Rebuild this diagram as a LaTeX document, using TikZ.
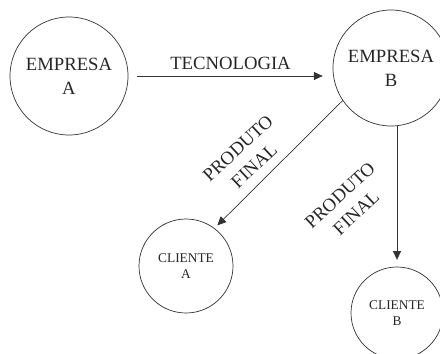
\documentclass[tikz,border=0pt]{standalone}
\usepackage{fontspec}
\setmainfont{Liberation Serif}
\usetikzlibrary{arrows.meta}
\begin{document}
\begin{tikzpicture}[
  ent/.style={circle, draw=black!80, line width=0.5pt, align=center, inner sep=0pt, text=black!85},
  big/.style={font=\fontsize{13.3}{17}\selectfont},
  small/.style={font=\fontsize{9.5}{11.5}\selectfont},
  flow/.style={draw=black!80, line width=0.5pt, -{Triangle[length=2.2mm,width=2mm]}}]
\def\W{11}
\def\H{8.825}
\clip (0,0) rectangle (\W,\H);
% Companies
\node[ent, big, minimum size=2.95cm] (empA) at (1.725,6.925) {EMPRESA\\A};
\node[ent, big, minimum size=2.9cm] (empB) at (9.775,7.125) {EMPRESA\\B};
% Clients
\node[ent, small, minimum size=2.35cm] (cliA) at (4.65,2.175) {CLIENTE\\A};
\node[ent, small, minimum size=2.3cm] (cliB) at (9.925,1.0) {CLIENTE\\B};
% Technology transfer
\draw[flow, shorten <=0.22cm, shorten >=0.25cm] (empA.east) -- (empA.east -| empB.west)
    node[midway, above=1pt, big, text=black!85] {TECNOLOGIA};
% Final product
\draw[flow, shorten >=0.1cm] (empB.214) -- (cliA.53);
\draw[flow, shorten >=0.17cm] (empB.south -| cliB.north) -- (cliB.north);
\node[big, align=center, rotate=43, text=black!85] (prodA) at (6.15,4.9) {PRODUTO\\FINAL};
\node[big, align=center, rotate=43, text=black!85] (prodB) at (8.7,3.725) {PRODUTO\\FINAL};
\end{tikzpicture}
\end{document}
